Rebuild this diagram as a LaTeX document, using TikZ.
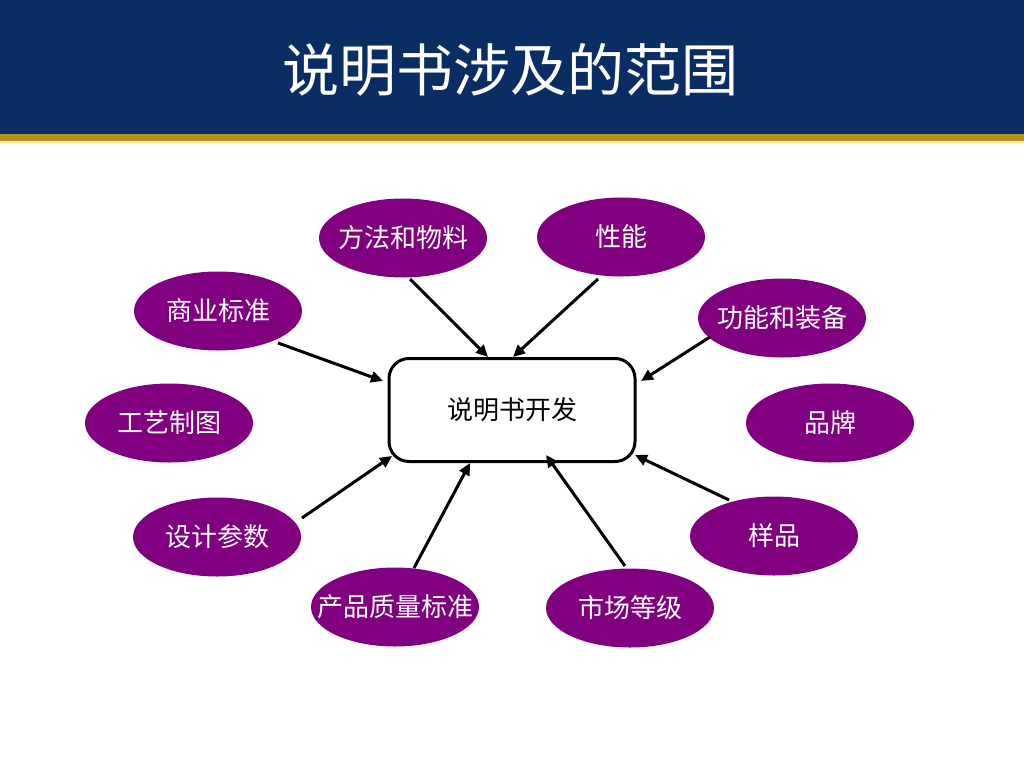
\documentclass[tikz,border=0pt]{standalone}
\usepackage{fontspec}
\newfontfamily\cjk{Noto Sans CJK SC}
\usetikzlibrary{arrows.meta,shapes.geometric}
\definecolor{barblue}{HTML}{0A2E63}
\definecolor{bargold}{HTML}{B8901F}
\definecolor{barpale}{HTML}{F3E6A6}
\definecolor{ovpurple}{HTML}{800080}
\tikzset{
  oval/.style={ellipse, fill=ovpurple, draw=none, minimum width=168pt, minimum height=79pt,
    inner sep=0pt},
  ovtext/.style={text=white, inner sep=0pt, font=\cjk\fontsize{26}{30}\selectfont},
  centerbox/.style={draw=black, line width=3pt, rounded corners=20pt, fill=white,
    minimum width=246pt, minimum height=103pt, font=\cjk\fontsize{26}{30}\selectfont},
  arr/.style={-{Triangle[length=12pt,width=11pt]}, line width=3pt, black}
}
\begin{document}
\begin{tikzpicture}[x=1pt,y=-1pt]
\useasboundingbox (0,0) rectangle (1024,768);
\fill[white] (0,0) rectangle (1024,768);
% title bar
\fill[barblue] (0,0) rectangle (1024,134);
\fill[bargold] (0,134) rectangle (1024,141);
\fill[barpale] (0,141) rectangle (1024,143);
\node[text=white, font=\cjk\fontsize{57}{62}\selectfont] (title) at (510,70) {说明书涉及的范围};
% center
\node[centerbox] (box) at (512,410) {说明书开发};
% ovals
\node[oval, label={[ovtext]center:方法和物料}] (n1) at (403,238) {};
\node[oval, label={[ovtext]center:性能}] (n2) at (621,237) {};
\node[oval, label={[ovtext]center:商业标准}] (n3) at (218,311) {};
\node[oval, label={[ovtext]center:功能和装备}] (n4) at (782,318) {};
\node[oval, label={[ovtext]center:工艺制图}] (n5) at (169,423) {};
\node[oval, label={[ovtext]center:品牌}] (n6) at (830,423) {};
\node[oval, label={[ovtext]center:设计参数}] (n7) at (217,537) {};
\node[oval, label={[ovtext]center:样品}] (n8) at (774,536) {};
\node[oval, label={[ovtext]center:产品质量标准}] (n9) at (395,607) {};
\node[oval, label={[ovtext]center:市场等级}] (n10) at (630,608) {};
% connector ends
\coordinate (s1) at (410,279); \coordinate (e1) at (488,357);
\coordinate (s2) at (598,279); \coordinate (e2) at (513,357);
\coordinate (s3) at (278,343); \coordinate (e3) at (383,381);
\coordinate (s4) at (710,337); \coordinate (e4) at (641,381);
\coordinate (s7) at (302,518); \coordinate (e7) at (392,456);
\coordinate (s9) at (414,568); \coordinate (e9) at (470,463);
\coordinate (s10) at (625,566); \coordinate (e10) at (546,455);
\coordinate (s8) at (729,500); \coordinate (e8) at (635,455);
\draw[arr] (s1) -- (e1);
\draw[arr] (s2) -- (e2);
\draw[arr] (s3) -- (e3);
\draw[arr] (s4) -- (e4);
\draw[arr] (s7) -- (e7);
\draw[arr] (s9) -- (e9);
\draw[arr] (s10) -- (e10);
\draw[arr] (s8) -- (e8);
\end{tikzpicture}
\end{document}
